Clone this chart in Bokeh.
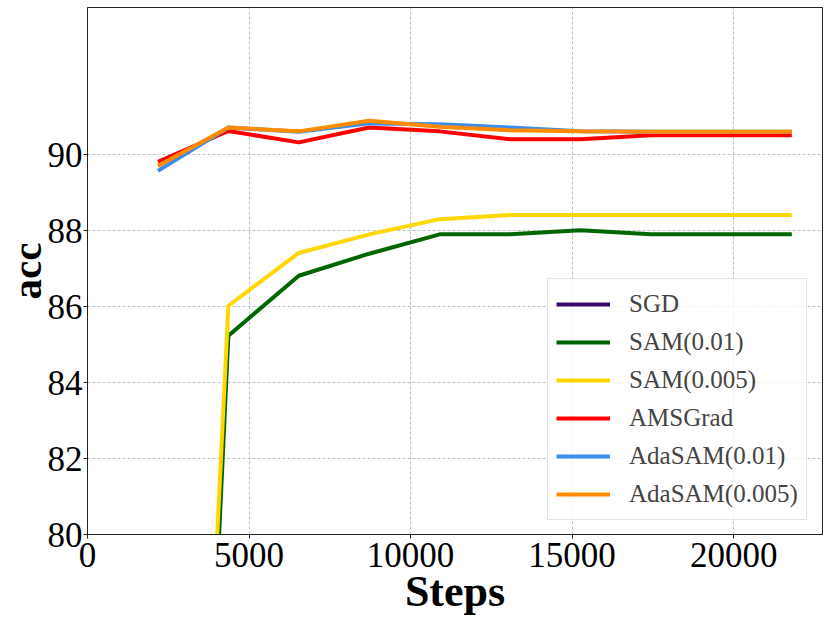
from bokeh.plotting import figure
from bokeh.models import Range1d, FixedTicker, Legend, LegendItem
from bokeh.embed import file_html
from bokeh.resources import INLINE

steps = [2180, 4360, 6540, 8720, 10900, 13080, 15260, 17440, 19620, 21800]
sgd = [10.0, 45.0, 60.0, 66.0, 70.0, 72.0, 74.0, 75.0, 76.0, 76.5]
sam_001 = [45.3, 85.23, 86.81, 87.39, 87.90, 87.90, 88.01, 87.90, 87.90, 87.90]
sam_0005 = [47.9, 86.02, 87.41, 87.90, 88.30, 88.41, 88.41, 88.41, 88.41, 88.41]
amsgrad = [89.81, 90.62, 90.32, 90.71, 90.61, 90.40, 90.40, 90.51, 90.51, 90.51]
adasam_001 = [89.57, 90.71, 90.60, 90.82, 90.80, 90.71, 90.61, 90.60, 90.60, 90.60]
adasam_0005 = [89.70, 90.71, 90.61, 90.89, 90.73, 90.64, 90.61, 90.60, 90.60, 90.60]

series_names = ["SGD", "SAM(0.01)", "SAM(0.005)", "AMSGrad", "AdaSAM(0.01)", "AdaSAM(0.005)"]
series_vals = [sgd, sam_001, sam_0005, amsgrad, adasam_001, adasam_0005]
colors = ["#3b0a6b", "#006400", "#ffd700", "#ff0000", "#3b8ded", "#ff8c00"]

x_ticks = [0, 5000, 10000, 15000, 20000]
y_ticks = [80, 82, 84, 86, 88, 90]

FONT = "Liberation Serif"

p = figure(width=830, height=621, output_backend="svg", toolbar_location=None,
           x_range=Range1d(0, 22750), y_range=Range1d(80, 93.87),
           x_axis_label="Steps", y_axis_label="acc",
           min_border_left=87, min_border_right=8, min_border_top=7, min_border_bottom=87)
p.background_fill_color = "white"
p.border_fill_color = "white"
p.outline_line_color = "#222222"
p.outline_line_width = 1

items = []
for name, vals, c in zip(series_names, series_vals, colors):
    r = p.line(steps, vals, line_color=c, line_width=4)
    items.append(LegendItem(label=name, renderers=[r]))

for ax in (p.xaxis[0], p.yaxis[0]):
    ax.major_label_text_font = FONT
    ax.major_label_text_font_size = "35px"
    ax.major_label_text_color = "black"
    ax.axis_label_text_font = FONT
    ax.axis_label_text_font_style = "bold"
    ax.axis_label_text_color = "black"
    ax.axis_line_color = "#222222"
    ax.major_tick_line_color = "#222222"
    ax.major_tick_out = 4
    ax.major_tick_in = 0
    ax.minor_tick_out = 0
    ax.minor_tick_in = 0

p.xaxis[0].ticker = FixedTicker(ticks=x_ticks)
p.yaxis[0].ticker = FixedTicker(ticks=y_ticks)
p.xaxis[0].major_label_standoff = 4
p.yaxis[0].major_label_standoff = 1
p.xaxis[0].axis_label_text_font_size = "44px"
p.xaxis[0].axis_label_standoff = -3
p.yaxis[0].axis_label_text_font_size = "41px"
p.yaxis[0].axis_label_standoff = -5

for g in (p.xgrid[0], p.ygrid[0]):
    g.grid_line_color = "#b0b0b0"
    g.grid_line_dash = "3 2"
    g.grid_line_width = 0.8

legend = Legend(items=items, location=(460, 14))
legend.label_text_font = FONT
legend.label_text_font_size = "25px"
legend.glyph_width = 54
legend.glyph_height = 34
legend.label_height = 34
legend.label_standoff = 19
legend.spacing = 4
legend.padding = 8
legend.margin = 0
legend.border_line_color = "#cccccc"
legend.border_line_width = 1
legend.background_fill_color = "white"
legend.background_fill_alpha = 0.8
p.add_layout(legend, "center")

open("out.html", "w").write(file_html(p, INLINE))
